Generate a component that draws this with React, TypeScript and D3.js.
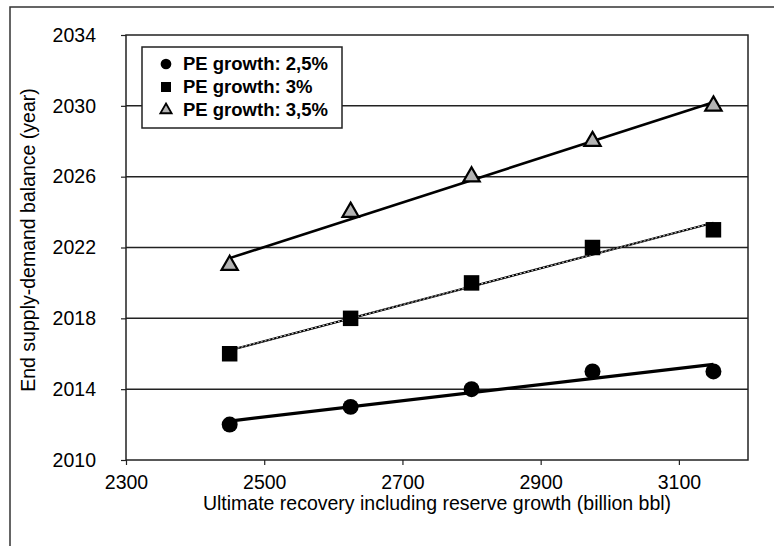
import { useRef, useEffect } from "react";
import * as d3 from "d3";

const recovery = [2450, 2625, 2800, 2975, 3150];
const growth25 = [2012, 2013, 2014, 2015, 2015];
const growth3 = [2016, 2018, 2020, 2022, 2023];
const growth35 = [2021, 2024, 2026, 2028, 2030];
const xTicks = [2300, 2500, 2700, 2900, 3100];
const yTicks = [2010, 2014, 2018, 2022, 2026, 2030, 2034];
const legendLabels = ["PE growth: 2,5%", "PE growth: 3%", "PE growth: 3,5%"];

const W = 774;
const H = 546;
const FONT = "'Liberation Sans', Arial, sans-serif";

// least squares fit, returns [y at first x, y at last x]
function fitLine(xs: number[], ys: number[]) {
    const mx = d3.mean(xs)!;
    const my = d3.mean(ys)!;
    const num = d3.sum(xs, (x, i) => (x - mx) * (ys[i] - my));
    const den = d3.sum(xs, x => (x - mx) * (x - mx));
    const slope = num / den;
    const f = (x: number) => my + slope * (x - mx);
    return [
        [xs[0], f(xs[0])],
        [xs[xs.length - 1], f(xs[xs.length - 1])],
    ] as [number, number][];
}

export default function App() {
    const svgRef = useRef<SVGSVGElement | null>(null);

    useEffect(() => {
        if (!svgRef.current) return;
        const svg = d3.select(svgRef.current);
        svg.selectAll("*").remove();

        const plot = { left: 126, right: 748, top: 35, bottom: 460 };

        const x = d3.scaleLinear().domain([2300, 3200]).range([plot.left, plot.right]);
        const y = d3.scaleLinear().domain([2010, 2034]).range([plot.bottom, plot.top]);

        svg.append("rect").attr("width", W).attr("height", H).attr("fill", "#fff");

        // outer frame (only top and left edges are in view)
        svg.append("path")
            .attr("d", `M10,${H + 2}V7H${W + 2}`)
            .attr("fill", "none")
            .attr("stroke", "#333")
            .attr("stroke-width", 1.5);

        // horizontal gridlines
        svg.append("g")
            .selectAll("line")
            .data(yTicks.filter(t => t !== 2010 && t !== 2034))
            .join("line")
            .attr("x1", plot.left)
            .attr("x2", plot.right)
            .attr("y1", d => y(d))
            .attr("y2", d => y(d))
            .attr("stroke", "#222")
            .attr("stroke-width", 1.5);

        // plot border
        svg.append("rect")
            .attr("x", plot.left)
            .attr("y", plot.top)
            .attr("width", plot.right - plot.left)
            .attr("height", plot.bottom - plot.top)
            .attr("fill", "none")
            .attr("stroke", "#222")
            .attr("stroke-width", 1.5);

        // y axis
        const yAxis = svg.append("g")
            .attr("transform", `translate(${plot.left},0)`)
            .call(d3.axisLeft(y).tickValues(yTicks).tickFormat(d3.format("d")).tickSize(5).tickPadding(25));
        yAxis.select(".domain").remove();
        yAxis.selectAll("line").attr("stroke", "#222").attr("stroke-width", 1.2);
        yAxis.selectAll("text").attr("font-family", FONT).attr("font-size", 19.5).attr("fill", "#000");

        // x axis
        const xAxis = svg.append("g")
            .attr("transform", `translate(0,${plot.bottom})`)
            .call(d3.axisBottom(x).tickValues(xTicks).tickFormat(d3.format("d")).tickSize(5).tickPadding(10));
        xAxis.select(".domain").remove();
        xAxis.selectAll("line").attr("stroke", "#222").attr("stroke-width", 1.2);
        xAxis.selectAll("text").attr("font-family", FONT).attr("font-size", 19.5).attr("fill", "#000");

        // axis titles
        svg.append("text")
            .attr("x", 437)
            .attr("y", 510)
            .attr("text-anchor", "middle")
            .attr("font-family", FONT)
            .attr("font-size", 19.5)
            .text("Ultimate recovery including reserve growth (billion bbl)");

        svg.append("text")
            .attr("transform", `translate(35,240) rotate(-90)`)
            .attr("text-anchor", "middle")
            .attr("font-family", FONT)
            .attr("font-size", 19.5)
            .text("End supply-demand balance (year)");

        const line = d3.line<[number, number]>().x(d => x(d[0])).y(d => y(d[1]));

        // trend lines
        svg.append("path").attr("d", line(fitLine(recovery, growth25))!)
            .attr("stroke", "#000").attr("stroke-width", 3.2).attr("fill", "none");
        svg.append("path").attr("d", line(fitLine(recovery, growth35))!)
            .attr("stroke", "#000").attr("stroke-width", 2.6).attr("fill", "none");
        svg.append("path").attr("d", line(fitLine(recovery, growth3))!)
            .attr("stroke", "#000").attr("stroke-width", 2.2).attr("fill", "none");
        svg.append("path").attr("d", line(fitLine(recovery, growth3))!)
            .attr("stroke", "#fff").attr("stroke-width", 0.8).attr("stroke-dasharray", "2,2").attr("fill", "none");

        const circle = d3.symbol().type(d3.symbolCircle).size(200);
        const square = d3.symbol().type(d3.symbolSquare).size(240);
        const triangle = d3.symbol().type(d3.symbolTriangle).size(115);

        const drawMarks = (vals: number[], sym: d3.Symbol<any, any>, fill: string, stroke: number) => {
            svg.append("g")
                .selectAll("path")
                .data(recovery.map((r, i) => [r, vals[i]]))
                .join("path")
                .attr("transform", d => `translate(${x(d[0])},${y(d[1])})`)
                .attr("d", sym()!)
                .attr("fill", fill)
                .attr("stroke", "#000")
                .attr("stroke-width", stroke);
        };
        drawMarks(growth25, circle, "#000", 0);
        drawMarks(growth3, square, "#000", 0);
        drawMarks(growth35, triangle, "#b4b4b4", 2.2);

        // legend
        const lg = svg.append("g");
        lg.append("rect")
            .attr("x", 142).attr("y", 47).attr("width", 200).attr("height", 81)
            .attr("fill", "#fff").attr("stroke", "#222").attr("stroke-width", 1.5);
        const legendSyms = [
            { sym: d3.symbol().type(d3.symbolCircle).size(90), fill: "#000", sw: 0 },
            { sym: d3.symbol().type(d3.symbolSquare).size(100), fill: "#000", sw: 0 },
            { sym: d3.symbol().type(d3.symbolTriangle).size(55), fill: "#b4b4b4", sw: 1.8 },
        ];
        legendLabels.forEach((label, i) => {
            const cy = 64 + i * 23;
            lg.append("path")
                .attr("transform", `translate(166,${cy})`)
                .attr("d", legendSyms[i].sym()!)
                .attr("fill", legendSyms[i].fill)
                .attr("stroke", "#000")
                .attr("stroke-width", legendSyms[i].sw);
            lg.append("text")
                .attr("x", 183)
                .attr("y", cy + 6)
                .attr("font-family", FONT)
                .attr("font-size", 18.5)
                .attr("font-weight", "bold")
                .text(label);
        });
    }, []);

    return (
        <svg
            ref={svgRef}
            width={W}
            height={H}
            style={{ position: "absolute", left: 0, top: 0 }}
        />
    );
}
